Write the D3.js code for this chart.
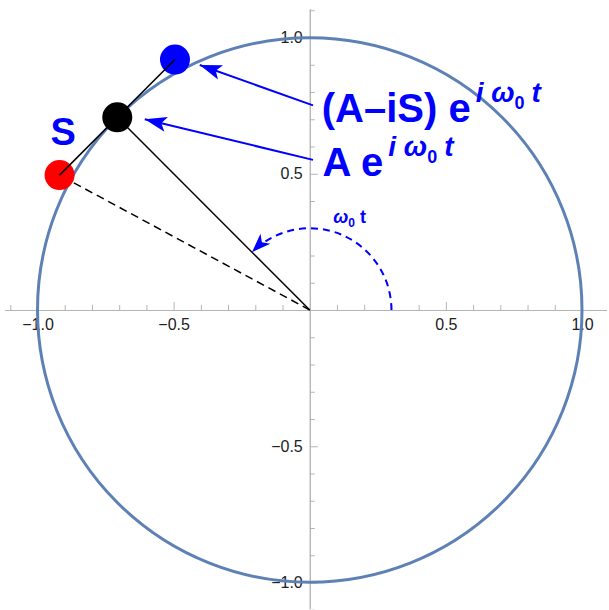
<!DOCTYPE html>
<html>
<head>
<meta charset="utf-8">
<script src="https://cdn.jsdelivr.net/npm/d3@7/dist/d3.min.js"></script>
<style>
  html, body { margin: 0; padding: 0; background: #fff; }
  svg { display: block; }
  text { font-family: "Liberation Sans", Arial, sans-serif; }
</style>
</head>
<body>
<svg id="chart" width="609" height="610"></svg>
<script>
// ---- data ----
const majorTicks = [-1, -0.5, 0.5, 1];
const minorTicks = [-1.1, -0.9, -0.8, -0.7, -0.6, -0.4, -0.3, -0.2, -0.1, 0.1, 0.2, 0.3, 0.4, 0.6, 0.7, 0.8, 0.9, 1.1];
const tickLabels = ["−1.0", "−0.5", "0.5", "1.0"];
const xAxisExtent = [-1.12, 1.09];
const yAxisExtent = [-1.095, 1.105];
const circleRadius = 1;
const phaseDeg = 135;           // angle of A e^{i w0 t}
const sValue = 0.3;             // S
const arcRadius = 0.3;          // omega0 t arc
const pointNames = ["A + S", "A", "A - iS"];
const pointX = [-0.919, -0.707, -0.495];
const pointY = [0.495, 0.707, 0.919];
const pointColors = ["#ff0000", "#000000", "#0000ff"];
const arrowFromX = [0.012, 0.012];
const arrowFromY = [0.751, 0.551];
const arrowToX = [-0.404, -0.606];
const arrowToY = [0.899, 0.700];
const labelX = [0.044, 0.047];
const labelY = [0.690, 0.490];
const labelMain = ["(A–iS) e", "A e"];
const sLabelPos = [-0.952, 0.606];
const omegaLabelPos = [0.086, 0.319];

// ---- scales ----
const svg = d3.select("#chart");
const xS = d3.scaleLinear().domain([-1, 1]).range([37.5, 582]);
const yS = d3.scaleLinear().domain([-1, 1]).range([582.5, 37.5]);
const axisGray = "#b4b4b4";
const blue = "#0000ff";

// ---- axes ----
const xAxisScale = xS.copy().domain(xAxisExtent).range(xAxisExtent.map(xS));
const yAxisScale = yS.copy().domain(yAxisExtent).range(yAxisExtent.map(yS));

const gx = svg.append("g").attr("transform", `translate(0,${yS(0)})`);
gx.call(d3.axisBottom(xAxisScale).tickValues(minorTicks).tickSizeInner(-5).tickSizeOuter(0).tickFormat(""));
gx.append("g").call(d3.axisBottom(xAxisScale).tickValues(majorTicks).tickSizeInner(-8).tickSizeOuter(0)
    .tickPadding(9).tickFormat((d, i) => tickLabels[i]));

const gy = svg.append("g").attr("transform", `translate(${xS(0)},0)`);
gy.call(d3.axisLeft(yAxisScale).tickValues(minorTicks).tickSizeInner(-5).tickSizeOuter(0).tickFormat(""));
gy.append("g").call(d3.axisLeft(yAxisScale).tickValues(majorTicks).tickSizeInner(-8).tickSizeOuter(0)
    .tickPadding(7).tickFormat((d, i) => tickLabels[i]));

svg.selectAll(".domain").attr("stroke", axisGray).attr("stroke-width", 1);
svg.selectAll(".tick line").attr("stroke", axisGray).attr("stroke-width", 1);
svg.selectAll(".tick text").attr("fill", "#222").attr("font-size", 16)
   .attr("font-family", "Liberation Sans, Arial, sans-serif");

// ---- markers ----
const defs = svg.append("defs");
defs.append("marker").attr("id", "ah").attr("markerUnits", "userSpaceOnUse")
  .attr("viewBox", "-24 -9 26 18").attr("refX", 0).attr("refY", 0)
  .attr("markerWidth", 26).attr("markerHeight", 18).attr("orient", "auto")
  .append("path").attr("d", "M0,0 L-22,-7.5 L-17,0 L-22,7.5 Z").attr("fill", blue);
defs.append("marker").attr("id", "ah2").attr("markerUnits", "userSpaceOnUse")
  .attr("viewBox", "-22 -9 24 18").attr("refX", 0).attr("refY", 0)
  .attr("markerWidth", 24).attr("markerHeight", 18).attr("orient", "auto")
  .append("path").attr("d", "M0,0 L-19,-7 L-14,0 L-19,7 Z").attr("fill", blue);

// ---- unit circle ----
svg.append("circle")
  .attr("cx", xS(0)).attr("cy", yS(0))
  .attr("r", xS(circleRadius) - xS(0))
  .attr("fill", "none").attr("stroke", "#5e81b5").attr("stroke-width", 3);

// ---- omega0 t arc ----
const th = phaseDeg * Math.PI / 180;
const rPx = xS(arcRadius) - xS(0);
const ax0 = xS(arcRadius), ay0 = yS(0);
const ax1 = xS(arcRadius * Math.cos(th)), ay1 = yS(arcRadius * Math.sin(th));
svg.append("path")
  .attr("d", `M${ax0},${ay0} A${rPx},${rPx} 0 0 0 ${ax1},${ay1}`)
  .attr("fill", "none").attr("stroke", blue).attr("stroke-width", 2)
  .attr("stroke-dasharray", "7,5").attr("marker-end", "url(#ah2)");

// ---- lines ----
// dashed: origin -> red point
svg.append("line")
  .attr("x1", xS(0)).attr("y1", yS(0)).attr("x2", xS(pointX[0])).attr("y2", yS(pointY[0]))
  .attr("stroke", "#000").attr("stroke-width", 1.5).attr("stroke-dasharray", "8,5");
// solid: origin -> A
svg.append("line")
  .attr("x1", xS(0)).attr("y1", yS(0)).attr("x2", xS(pointX[1])).attr("y2", yS(pointY[1]))
  .attr("stroke", "#000").attr("stroke-width", 1.5);

// ---- points ----
svg.selectAll("circle.pt").data(pointX).join("circle").attr("class", "pt")
  .attr("cx", (d) => xS(d)).attr("cy", (d, i) => yS(pointY[i]))
  .attr("r", 15).attr("fill", (d, i) => pointColors[i]);

// tangent segment red -> blue (drawn over points)
svg.append("line")
  .attr("x1", xS(pointX[0])).attr("y1", yS(pointY[0])).attr("x2", xS(pointX[2])).attr("y2", yS(pointY[2]))
  .attr("stroke", "#000").attr("stroke-width", 1.5);

// ---- arrows ----
svg.selectAll("line.arr").data(arrowFromX).join("line").attr("class", "arr")
  .attr("x1", (d) => xS(d)).attr("y1", (d, i) => yS(arrowFromY[i]))
  .attr("x2", (d, i) => xS(arrowToX[i])).attr("y2", (d, i) => yS(arrowToY[i]))
  .attr("stroke", blue).attr("stroke-width", 2).attr("marker-end", "url(#ah)");

// ---- labels ----
labelMain.forEach((m, i) => {
  const t = svg.append("text").attr("x", xS(labelX[i])).attr("y", yS(labelY[i]))
    .attr("fill", blue).attr("font-weight", "bold").attr("font-size", 40);
  t.append("tspan").text(m);
  t.append("tspan").attr("dx", 5).attr("dy", -20).attr("font-size", 28).attr("font-style", "italic").text("i ω");
  t.append("tspan").attr("dy", 7).attr("font-size", 18).attr("font-style", "normal").text("0");
  t.append("tspan").attr("dx", 7).attr("dy", -7).attr("font-size", 28).attr("font-style", "italic").text("t");
});

svg.append("text").attr("x", xS(sLabelPos[0])).attr("y", yS(sLabelPos[1]))
  .attr("fill", blue).attr("font-weight", "bold").attr("font-size", 38).text("S");

const om = svg.append("text").attr("x", xS(omegaLabelPos[0])).attr("y", yS(omegaLabelPos[1]))
  .attr("fill", blue).attr("font-weight", "bold").attr("font-size", 18);
om.append("tspan").attr("font-style", "italic").text("ω");
om.append("tspan").attr("dy", 4).attr("font-size", 12).text("0");
om.append("tspan").attr("dx", 5).attr("dy", -4).text("t");
</script>
</body>
</html>
